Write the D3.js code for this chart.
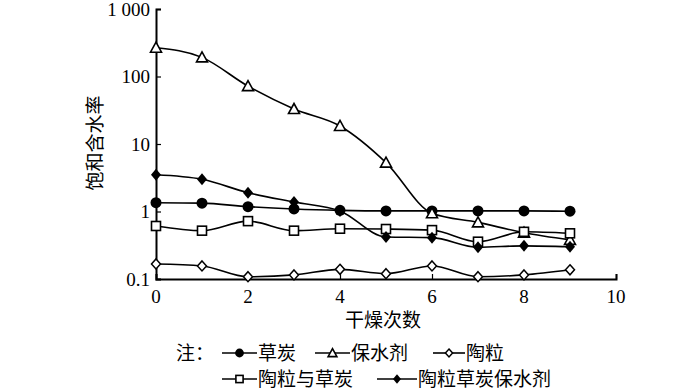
<!DOCTYPE html>
<html><head><meta charset="utf-8">
<script src="https://cdn.jsdelivr.net/npm/d3@7"></script>
<style>body{margin:0;background:#fff}svg{display:block}</style>
</head><body><svg id="c" width="700" height="391"></svg>
<script>
const xValues = [0,1,2,3,4,5,6,7,8,9];
const seriesNames = ["草炭","保水剂","陶粒","陶粒与草炭","陶粒草炭保水剂"];
const peat = [1.35,1.33,1.18,1.09,1.04,1.02,1.02,1.02,1.02,1.01];
const sap = [267,192,72,33,18.5,5.3,0.94,0.69,0.485,0.38];
const ceramsite = [0.167,0.156,0.108,0.115,0.139,0.12,0.156,0.108,0.115,0.137];
const ceramPeat = [0.61,0.52,0.72,0.52,0.556,0.55,0.53,0.357,0.50,0.475];
const ceramPeatSap = [3.5,3.0,1.9,1.38,1.02,0.42,0.41,0.295,0.31,0.30];
const yTicks = [0.1,1,10,100,1000];
const yTickLabels = ["0.1","1","10","100","1 000"];
const xTicks = [0,2,4,6,8,10];
const xTitle = "干燥次数";
const yTitle = "饱和含水率";

const series = [
  {name:seriesNames[0], vals:peat, sym:"circle"},
  {name:seriesNames[1], vals:sap, sym:"triangle"},
  {name:seriesNames[2], vals:ceramsite, sym:"odiamond"},
  {name:seriesNames[3], vals:ceramPeat, sym:"square"},
  {name:seriesNames[4], vals:ceramPeatSap, sym:"diamond"}
];

const svg = d3.select("#c");
const x = d3.scaleLinear().domain([0,10]).range([156,616]);
const y = d3.scaleLog().domain([0.1,1000]).range([279,9]);
const serif = "'Liberation Serif','DejaVu Serif',serif";
const cjk = "'Noto Sans CJK SC','Noto Sans',sans-serif";

// axes
const gy = svg.append("g").attr("transform","translate(156,0)")
  .call(d3.axisRight(y).tickValues(yTicks).tickFormat((d,i)=>"").tickSizeOuter(0).tickSize(5));
gy.select(".domain").attr("stroke","#000").attr("stroke-width",2);
gy.selectAll(".tick line").attr("stroke","#000").attr("stroke-width",1.2);
yTicks.forEach((t,i)=>{
  svg.append("text").attr("x",150).attr("y",y(t)).attr("dy","0.35em")
    .attr("text-anchor","end").attr("font-family",serif).attr("font-size",19).text(yTickLabels[i]);
});
const gx = svg.append("g").attr("transform","translate(0,279)")
  .call(d3.axisTop(x).tickValues(xTicks).tickFormat(()=>"").tickSizeOuter(0).tickSize(5));
gx.select(".domain").attr("stroke","#000").attr("stroke-width",2);
gx.selectAll(".tick line").attr("stroke","#000").attr("stroke-width",1.2);
xTicks.forEach(t=>{
  svg.append("text").attr("x",x(t)).attr("y",296).attr("dy","0.35em")
    .attr("text-anchor","middle").attr("font-family",serif).attr("font-size",19).text(t);
});
svg.append("text").attr("x",383).attr("y",320).attr("dy","0.35em").attr("text-anchor","middle")
  .attr("font-family",cjk).attr("font-size",19).text(xTitle);
svg.append("text").attr("transform","translate(95,143) rotate(-90)").attr("dy","0.35em")
  .attr("text-anchor","middle").attr("font-family",cjk).attr("font-size",19).text(yTitle);

function marker(g, sym, cx, cy, s){
  if(sym==="circle") g.append("circle").attr("cx",cx).attr("cy",cy).attr("r",5.5*s).attr("fill","#000");
  else if(sym==="triangle") g.append("path").attr("d",`M${cx},${cy-5.5*s}L${cx+5.5*s},${cy+4.5*s}L${cx-5.5*s},${cy+4.5*s}Z`).attr("fill","#fff").attr("stroke","#000").attr("stroke-width",1.6);
  else if(sym==="square") g.append("rect").attr("x",cx-4.5*s).attr("y",cy-4.5*s).attr("width",9*s).attr("height",9*s).attr("fill","#fff").attr("stroke","#000").attr("stroke-width",1.6);
  else if(sym==="diamond") g.append("path").attr("d",`M${cx},${cy-6*s}L${cx+5*s},${cy}L${cx},${cy+6*s}L${cx-5*s},${cy}Z`).attr("fill","#000");
  else if(sym==="odiamond") g.append("path").attr("d",`M${cx},${cy-5*s}L${cx+4.5*s},${cy}L${cx},${cy+5*s}L${cx-4.5*s},${cy}Z`).attr("fill","#fff").attr("stroke","#000").attr("stroke-width",1.5);
}

const line = d3.line().x((d,i)=>x(xValues[i])).y(d=>y(d)).curve(d3.curveMonotoneX);
series.forEach(s=>{
  svg.append("path").attr("d",line(s.vals)).attr("fill","none").attr("stroke","#000").attr("stroke-width",1.6);
});
series.forEach(s=>{
  const g = svg.append("g");
  s.vals.forEach((v,i)=>marker(g,s.sym,x(xValues[i]),y(v),1));
});

// legend
svg.append("text").attr("x",176).attr("y",353).attr("dy","0.35em").attr("font-family",cjk).attr("font-size",19).text("注：");
const leg = [
  {s:series[0], x0:222, x1:257, row:353},
  {s:series[1], x0:315, x1:350, row:353},
  {s:series[2], x0:433, x1:465, row:353},
  {s:series[3], x0:222, x1:257, row:379},
  {s:series[4], x0:377, x1:417, row:379}
];
leg.forEach(l=>{
  const g = svg.append("g");
  g.append("line").attr("x1",l.x0).attr("x2",l.x1).attr("y1",l.row).attr("y2",l.row).attr("stroke","#000").attr("stroke-width",1.6);
  marker(g,l.s.sym,(l.x0+l.x1)/2,l.row,0.8);
  g.append("text").attr("x",l.x1+1).attr("y",l.row).attr("dy","0.35em").attr("font-family",cjk).attr("font-size",19).text(l.s.name);
});
</script></body></html>
